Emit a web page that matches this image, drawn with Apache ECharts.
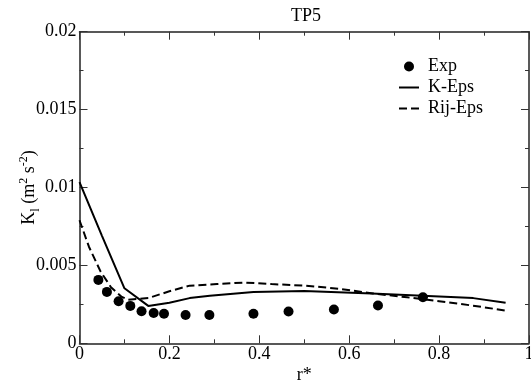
<!DOCTYPE html>
<html><head><meta charset="utf-8">
<script src="https://cdn.jsdelivr.net/npm/echarts@6/dist/echarts.min.js"></script>
<style>html,body{margin:0;padding:0;background:#fff}#c{width:531px;height:383px}</style>
</head><body><div id="c"></div>
<script>
var expX = [0.042,0.061,0.087,0.113,0.138,0.165,0.188,0.236,0.289,0.387,0.465,0.566,0.664,0.764];
var expY = [0.00407,0.0033,0.0027,0.0024,0.00206,0.00195,0.0019,0.00182,0.00182,0.0019,0.00204,0.00217,0.00243,0.00295];
var kX = [0,0.05,0.1,0.153,0.2,0.245,0.29,0.387,0.5,0.65,0.763,0.876,0.948];
var kY = [0.01034,0.0069,0.00353,0.00240,0.0026,0.0029,0.00305,0.0033,0.00335,0.0032,0.00305,0.0029,0.0026];
var rX = [0,0.021,0.047,0.07,0.093,0.108,0.153,0.2,0.245,0.306,0.367,0.427,0.503,0.578,0.653,0.729,0.80,0.88,0.948];
var rY = [0.0079,0.0062,0.0046,0.0036,0.0030,0.0028,0.0029,0.00334,0.0037,0.0038,0.0039,0.0038,0.0037,0.0035,0.0032,0.00295,0.0027,0.0024,0.0021];
var xTicks = [0,0.2,0.4,0.6,0.8,1];
var yTicks = [0,0.005,0.01,0.015,0.02];
function zip(a,b){return a.map(function(v,i){return [v,b[i]];});}
var F = 'Liberation Serif, Times New Roman, serif';
var chart = echarts.init(document.getElementById('c'));
var axBase = {
  type:'value',
  axisLine:{show:true,onZero:false,lineStyle:{color:'#222',width:1.5}},
  axisTick:{show:true,inside:true,length:8,lineStyle:{color:'#333',width:1}},
  minorTick:{show:true,splitNumber:2,length:4,lineStyle:{color:'#333',width:1}},
  splitLine:{show:false}
};
function ax(extra){return Object.assign({},JSON.parse(JSON.stringify(axBase)),extra);}
chart.setOption({
  backgroundColor:'#fff',
  animation:false,
  title:{text:'TP5',left:306,textAlign:'center',top:7,padding:0,textStyle:{fontFamily:F,fontSize:18,fontWeight:'normal',color:'#000'}},
  grid:{left:79.5,right:2,top:31.7,bottom:39.7,containLabel:false,outerBoundsMode:'none'},
  legend:{orient:'vertical',left:398,top:57.5,padding:0,itemWidth:20,itemHeight:10,itemGap:3,
    textStyle:{fontFamily:F,fontSize:18,lineHeight:18,color:'#000',padding:[0,0,0,4]},
    data:[{name:'Exp',icon:'circle'},
          {name:'K-Eps',itemStyle:{opacity:0}},
          {name:'Rij-Eps',itemStyle:{opacity:0}}]},
  xAxis:[
    ax({min:0,max:1,interval:0.2,position:'bottom',
      axisLabel:{fontFamily:F,fontSize:18,color:'#000',margin:2,formatter:function(v){return String(+(+v).toFixed(1));}},
      name:'r*',nameLocation:'middle',nameGap:23,nameMoveOverlap:false,nameTextStyle:{fontFamily:F,fontSize:18,color:'#000'}}),
    ax({min:0,max:1,interval:0.2,position:'top',axisLabel:{show:false}})
  ],
  yAxis:[
    ax({min:0,max:0.02,interval:0.005,position:'left',
      axisLabel:{fontFamily:F,fontSize:18,color:'#000',margin:3,formatter:function(v){return String(+(+v).toFixed(3));}},
      name:'K{sub|l} (m{sup|2} s{sup|-2})',nameLocation:'middle',nameGap:38,nameMoveOverlap:false,
      nameTextStyle:{fontFamily:F,fontSize:18,color:'#000',
        rich:{sub:{fontFamily:F,fontSize:12,color:'#000',verticalAlign:'bottom',padding:[10,0,0,0]},
              sup:{fontFamily:F,fontSize:12,color:'#000',verticalAlign:'top',padding:[0,0,12,0]}}}}),
    ax({min:0,max:0.02,interval:0.005,position:'right',axisLabel:{show:false}})
  ],
  series:[
    {name:'Exp',type:'scatter',data:zip(expX,expY),symbol:'circle',symbolSize:10,itemStyle:{color:'#000',opacity:1}},
    {name:'K-Eps',type:'line',data:zip(kX,kY),showSymbol:false,symbol:'none',lineStyle:{color:'#000',width:2},itemStyle:{color:'#000'}},
    {name:'Rij-Eps',type:'line',data:zip(rX,rY),showSymbol:false,symbol:'none',lineStyle:{color:'#000',width:2,type:[8,4]},itemStyle:{color:'#000'}}
  ]
});
</script></body></html>
